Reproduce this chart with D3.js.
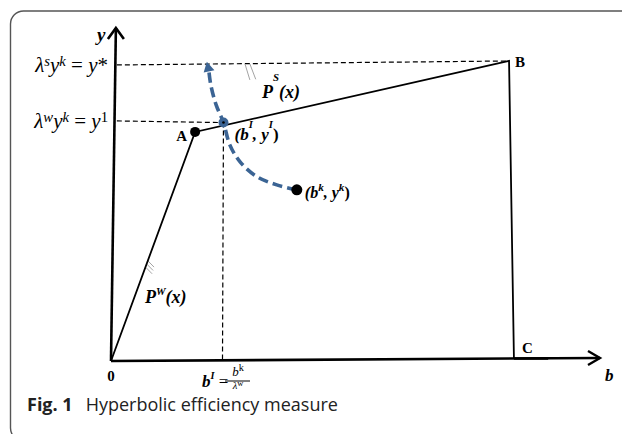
<!DOCTYPE html>
<html><head><meta charset="utf-8">
<script src="https://cdn.jsdelivr.net/npm/d3@7/dist/d3.min.js"></script>
<style>body{margin:0;background:#fff}svg{display:block}</style>
</head><body>
<script>
// ---- data (diagram units: x 0..100, y 0..100) ----
const frontier = [{x:0,y:0},{x:17.2,y:68.8},{x:81.4,y:90.1},{x:82.4,y:0.75}];
const pointA = {x:17.2, y:68.8};
const pointB = {x:81.4, y:90.1};
const pointC = {x:82.4, y:0.75};
const pointI = {x:23.0, y:71.6};
const pointK = {x:38.0, y:51.4};
const hyperbola = [
  {x:38.0,y:51.4},{x:33.9,y:52.9},{x:29.9,y:55.3},{x:26.4,y:59.8},
  {x:24.3,y:64.9},{x:23.0,y:71.6},{x:21.5,y:76.9},{x:20.4,y:83.0},{x:20.0,y:87.3}
];
const arrowTip = {x:19.6, y:89.9};
const yStarLine = [{x:1.2,y:88.9},{x:81.4,y:90.1}];
const y1Line = [{x:1.2,y:72.1},{x:23.0,y:71.6}];
const bILine = [{x:23.0,y:71.6},{x:22.8,y:0.2}];
const yAxis = [{x:0,y:0},{x:1.0,y:100}];
const xAxis = [{x:0,y:0},{x:100,y:0.9}];
const cSegment = [{x:82.4,y:0.75},{x:89.4,y:0.8}];
const hatches = [
  [{x:7.6,y:30.0},{x:8.8,y:28.2}],[{x:7.4,y:29.0},{x:8.6,y:27.2}],[{x:7.2,y:28.0},{x:8.4,y:26.2}],
  [{x:27.4,y:89.2},{x:28.4,y:84.4}],[{x:28.4,y:89.2},{x:29.6,y:84.6}]
];

const W = 622, H = 434;
const svg = d3.select('body').append('svg').attr('width',W).attr('height',H);
const x = d3.scaleLinear().domain([0,100]).range([111,600]);
const y = d3.scaleLinear().domain([0,100]).range([361,28]);
const line = d3.line().x(d=>x(d.x)).y(d=>y(d.y));
const blue = '#3b6494';

// frame
svg.append('rect').attr('x',10.5).attr('y',11).attr('width',700).attr('height',430)
  .attr('rx',13).attr('fill','none').attr('stroke','#555').attr('stroke-width',1.4);

// dashed guides
[yStarLine, y1Line, bILine].forEach(l=>{
  svg.append('path').attr('d',line(l)).attr('fill','none').attr('stroke','#000')
    .attr('stroke-width',1.2).attr('stroke-dasharray','5,3');
});

// hatches
hatches.forEach(h=>svg.append('path').attr('d',line(h)).attr('stroke','#999').attr('stroke-width',0.9).attr('fill','none'));

// axes
svg.append('path').attr('d',line(yAxis)).attr('stroke','#000').attr('stroke-width',2.6).attr('fill','none');
svg.append('path').attr('d',line(xAxis)).attr('stroke','#000').attr('stroke-width',2.6).attr('fill','none');
const yt = yAxis[1], xt = xAxis[1];
svg.append('path').attr('d',`M${x(yt.x)-8},${y(yt.y)+11}L${x(yt.x)},${y(yt.y)}L${x(yt.x)+8},${y(yt.y)+11}`)
  .attr('stroke','#000').attr('stroke-width',2.6).attr('fill','none').attr('stroke-linejoin','miter');
svg.append('path').attr('d',`M${x(xt.x)-12},${y(xt.y)-7}L${x(xt.x)},${y(xt.y)}L${x(xt.x)-12},${y(xt.y)+7}`)
  .attr('stroke','#000').attr('stroke-width',2.4).attr('fill','none');
svg.append('path').attr('d',line(cSegment)).attr('stroke','#000').attr('stroke-width',2.6).attr('fill','none');

// frontier
svg.append('path').attr('d',line(frontier)).attr('stroke','#000').attr('stroke-width',1.8).attr('fill','none');

// hyperbola
svg.append('path').attr('d',line.curve(d3.curveCatmullRom)(hyperbola)).attr('fill','none')
  .attr('stroke',blue).attr('stroke-width',3.6).attr('stroke-dasharray','10,5');
line.curve(d3.curveLinear);
{
  const last = hyperbola[hyperbola.length-1];
  const tx=x(arrowTip.x), ty=y(arrowTip.y), bx=x(last.x), by=y(last.y);
  const dx=tx-bx, dy=ty-by, L=Math.hypot(dx,dy), ux=dx/L, uy=dy/L;
  const bx2=tx-ux*10, by2=ty-uy*10;
  svg.append('path').attr('d',`M${tx},${ty}L${bx2-uy*5.5},${by2+ux*5.5}L${bx2+uy*5.5},${by2-ux*5.5}Z`).attr('fill',blue);
}

// points
svg.append('circle').attr('cx',x(pointA.x)).attr('cy',y(pointA.y)).attr('r',5).attr('fill','#000');
svg.append('circle').attr('cx',x(pointK.x)).attr('cy',y(pointK.y)).attr('r',5.5).attr('fill','#000');
svg.append('circle').attr('cx',x(pointI.x)).attr('cy',y(pointI.y)).attr('r',5).attr('fill',blue);
svg.append('circle').attr('cx',x(pointI.x)).attr('cy',y(pointI.y)).attr('r',1.3).attr('fill','#000');

// rich text helper
function rich(px, py, segs, o={}){
  const fs=o.fs||15;
  const t=svg.append('text').attr('x',px).attr('y',py).attr('font-family','Liberation Serif, Times New Roman, serif')
    .attr('font-size',fs).attr('font-weight',o.bold===false?'normal':'bold').attr('text-anchor',o.anchor||'start').attr('fill','#000');
  let shift=0;
  segs.forEach(s=>{
    const target = s.sup? -(s.up||0.42)*fs : 0;
    const ts=t.append('tspan').text(s.t).attr('dy',target-shift);
    shift=target;
    if(s.sup) ts.attr('font-size',fs*(s.scale||0.62));
    if(s.i) ts.attr('font-style','italic');
    if(s.n) ts.attr('font-weight','normal');
  });
  return t;
}

// labels
rich(x(yt.x)-19, y(yt.y)+13, [{t:'y',i:1}], {fs:19});
rich(x(xt.x)+5, y(0)+20, [{t:'b',i:1}], {fs:17});
rich(x(0), y(0)+20, [{t:'0'}], {fs:15, anchor:'middle'});
rich(x(pointA.x)-8, y(pointA.y)+9, [{t:'A'}], {fs:15, anchor:'end'});
rich(x(pointB.x)+6, y(pointB.y)+6, [{t:'B'}], {fs:15});
rich(x(pointC.x)+8, y(pointC.y)-6, [{t:'C'}], {fs:15});

rich(108, y(yStarLine[0].y)+7, [{t:'λ',i:1,n:1},{t:'s',i:1,n:1,sup:1,scale:0.7,up:0.3},{t:'y',i:1,n:1},{t:'k',i:1,n:1,sup:1,scale:0.7,up:0.3},{t:' = '},{t:'y',i:1,n:1},{t:'*',n:1}], {fs:21, anchor:'end', bold:false});
rich(108, y(y1Line[0].y)+7, [{t:'λ',i:1,n:1},{t:'w',i:1,n:1,sup:1,scale:0.7,up:0.3},{t:'y',i:1,n:1},{t:'k',i:1,n:1,sup:1,scale:0.7,up:0.3},{t:' = ',n:1},{t:'y',i:1},{t:'1',sup:1,scale:0.7,up:0.3}], {fs:21, anchor:'end', bold:false});

rich(x(pointI.x)+11, y(pointI.y)+17, [{t:'(b',i:1},{t:'I',i:1,sup:1,up:0.7},{t:', y',i:1},{t:'I',i:1,sup:1,up:0.7},{t:')'}], {fs:17});
rich(x(pointK.x)+8, y(pointK.y)+8, [{t:'(b',i:1},{t:'k',i:1,sup:1,up:0.4,scale:0.7},{t:', y',i:1},{t:'k',i:1,sup:1,up:0.4,scale:0.7},{t:')'}], {fs:16});
rich(262, 98, [{t:'P',i:1},{t:'S',i:1,sup:1,up:0.95,scale:0.6},{t:'(x)',i:1}], {fs:18});
rich(145, 303, [{t:'P',i:1},{t:'W',i:1,sup:1,up:0.45,scale:0.6},{t:'(x)',i:1}], {fs:18});

// b^I = b^k / λ^w
rich(202, 387, [{t:'b',i:1},{t:'I',i:1,sup:1,up:0.45,scale:0.6},{t:' =',n:1}], {fs:17});
rich(238, 376, [{t:'b',i:1},{t:'k',sup:1,up:0.35,scale:0.8}], {fs:13, bold:false, anchor:'middle'});
svg.append('line').attr('x1',225).attr('x2',250).attr('y1',381).attr('y2',381).attr('stroke','#000').attr('stroke-width',1);
rich(238, 389, [{t:'λ',i:1},{t:'w',sup:1,up:0.3,scale:0.8}], {fs:10.5, bold:false, anchor:'middle'});

// caption
const cap = svg.append('text').attr('x',27).attr('y',411).attr('font-family','Open Sans, sans-serif').attr('font-size',18).attr('fill','#222');
cap.append('tspan').text('Fig. 1').attr('font-weight','bold');
cap.append('tspan').text('Hyperbolic efficiency measure').attr('dx',13);
</script>
</body></html>
